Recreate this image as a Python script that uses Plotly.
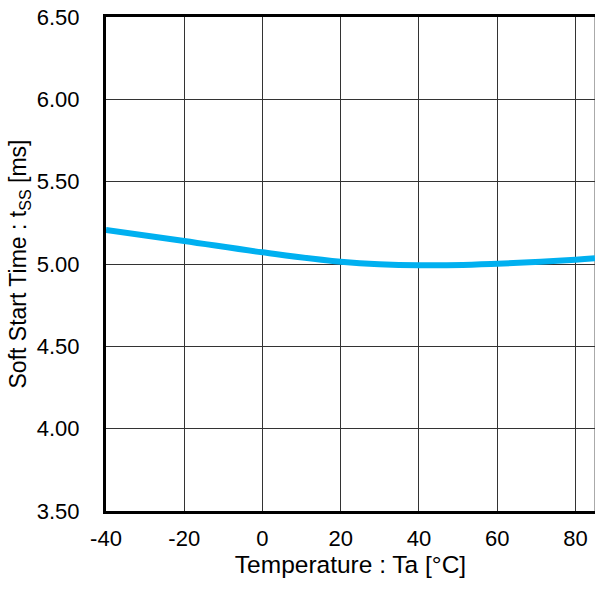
import plotly.graph_objects as go

temps = [-40, -20, 0, 20, 40, 60, 80, 85]
tss = [5.206, 5.140, 5.071, 5.014, 4.992, 5.002, 5.026, 5.035]

x_ticks = [-40, -20, 0, 20, 40, 60, 80]
y_ticks = [3.5, 4.0, 4.5, 5.0, 5.5, 6.0, 6.5]
y_labels = ["3.50", "4.00", "4.50", "5.00", "5.50", "6.00", "6.50"]

fig = go.Figure()
fig.add_trace(go.Scatter(x=temps, y=tss, mode="lines",
                         line=dict(color="#00B0F0", width=6, shape="spline"),
                         showlegend=False))
fig.add_shape(type="line", xref="x", yref="paper", x0=85, x1=85, y0=0, y1=1,
              line=dict(color="#555555", width=1), layer="below")

font = "Liberation Sans, Arial, sans-serif"
fig.update_layout(
    width=595, height=592,
    margin=dict(l=106, r=0, t=17, b=81),
    paper_bgcolor="white", plot_bgcolor="white",
    font=dict(family=font, color="black", size=22),
    xaxis=dict(range=[-40, 85], tickvals=x_ticks, ticktext=[str(v) for v in x_ticks],
               showgrid=True, gridcolor="#333333", gridwidth=1,
               showline=True, linecolor="black", linewidth=3, mirror=True,
               ticks="", zeroline=False, tickfont=dict(size=22), ticklabelstandoff=6,
               ticklabeloverflow="allow",
               title=dict(text="Temperature : Ta [°C]", font=dict(size=24.5), standoff=6)),
    yaxis=dict(range=[3.5, 6.5], tickvals=y_ticks, ticktext=y_labels,
               showgrid=True, gridcolor="#333333", gridwidth=1,
               showline=True, linecolor="black", linewidth=3, mirror=False,
               ticks="", zeroline=False, tickfont=dict(size=22), ticklabelstandoff=19,
               ticklabeloverflow="allow",
               title=dict(text="Soft Start Time : t<sub>SS</sub> [ms]", font=dict(size=23), standoff=4)),
)
fig.write_html(
    "out.html",
    config={"displayModeBar": False},
    post_script="document.body.style.margin='0';"
                "document.body.style.overflow='hidden';"
                "document.documentElement.style.overflow='hidden';",
)
